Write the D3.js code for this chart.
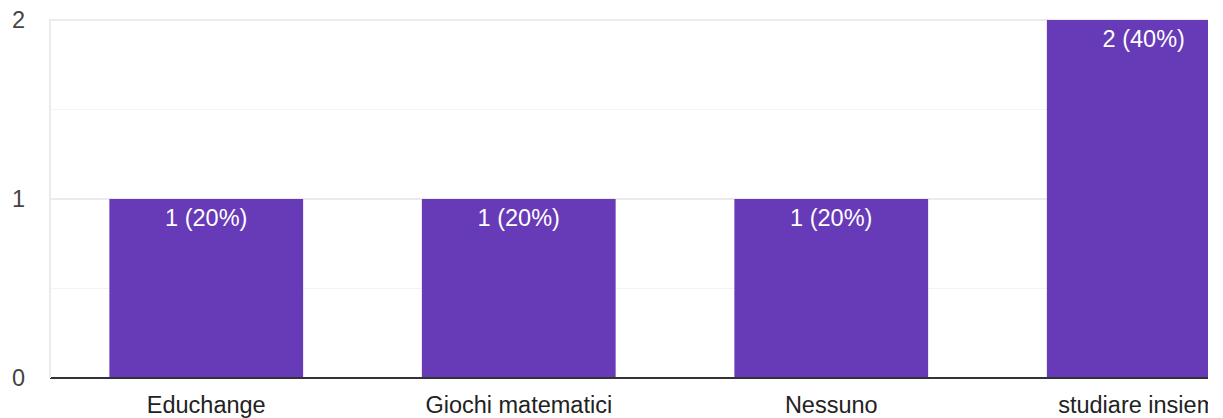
<!DOCTYPE html>
<html>
<head>
<meta charset="utf-8">
<script src="https://cdn.jsdelivr.net/npm/d3@7"></script>
<style>
  body { margin: 0; background: #fff; }
  text { font-family: "Liberation Sans", Arial, sans-serif; }
</style>
</head>
<body>
<div id="container"></div>
<script>
var categories = ["Educhange", "Giochi matematici", "Nessuno", "studiare insieme"];
var counts = [1, 1, 1, 2];
var labels = ["1 (20%)", "1 (20%)", "1 (20%)", "2 (40%)"];
var yTicks = [0, 1, 2];
var yMinor = [0.5, 1.5];

var W = 1223, H = 418;
var plotLeft = 50, plotRight = 1208, plotTop = 20, plotBottom = 378;

var svg = d3.select("#container")
  .append("svg")
    .attr("width", W)
    .attr("height", H);

svg.append("clipPath").attr("id", "plotclip")
  .append("rect")
    .attr("x", plotLeft).attr("y", 0)
    .attr("width", plotRight - plotLeft).attr("height", H);

var x = d3.scaleBand()
  .domain(categories)
  .range([plotLeft, plotLeft + 1250])
  .paddingInner(0.38)
  .paddingOuter(0.19);

var y = d3.scaleLinear()
  .domain([0, 2])
  .range([plotBottom, plotTop]);

var plot = svg.append("g").attr("clip-path", "url(#plotclip)");

// grid
plot.selectAll(".minor")
  .data(yMinor)
  .enter().append("line")
    .attr("x1", plotLeft).attr("x2", plotRight)
    .attr("y1", function (d) { return y(d); })
    .attr("y2", function (d) { return y(d); })
    .attr("stroke", "#f3f3f3")
    .attr("stroke-width", 1);

plot.selectAll(".major")
  .data(yTicks.filter(function (d) { return d > 0; }))
  .enter().append("line")
    .attr("x1", plotLeft).attr("x2", plotRight)
    .attr("y1", function (d) { return y(d); })
    .attr("y2", function (d) { return y(d); })
    .attr("stroke", "#ebebeb")
    .attr("stroke-width", 2);

svg.append("line")
  .attr("x1", plotLeft).attr("x2", plotLeft)
  .attr("y1", plotTop - 1).attr("y2", plotBottom)
  .attr("stroke", "#ebebeb")
  .attr("stroke-width", 2);

// bars
plot.selectAll(".bar")
  .data(counts)
  .enter().append("rect")
    .attr("x", function (d, i) { return x(categories[i]); })
    .attr("y", function (d) { return y(d); })
    .attr("width", x.bandwidth())
    .attr("height", function (d) { return y(0) - y(d); })
    .attr("fill", "#673ab7");

plot.selectAll(".barlabel")
  .data(counts)
  .enter().append("text")
    .attr("x", function (d, i) { return x(categories[i]) + x.bandwidth() / 2; })
    .attr("y", function (d) { return y(d) + 27; })
    .attr("text-anchor", "middle")
    .attr("fill", "#ffffff")
    .attr("font-size", "23.5px")
    .text(function (d, i) { return labels[i]; });

// baseline
plot.append("line")
  .attr("x1", plotLeft).attr("x2", plotRight)
  .attr("y1", y(0)).attr("y2", y(0))
  .attr("stroke", "#333333")
  .attr("stroke-width", 2);

// y labels
svg.selectAll(".ylab")
  .data(yTicks)
  .enter().append("text")
    .attr("x", 25)
    .attr("y", function (d) { return y(d); })
    .attr("dy", "0.36em")
    .attr("text-anchor", "end")
    .attr("fill", "#444444")
    .attr("font-size", "23.5px")
    .text(function (d) { return d; });

// category labels
plot.selectAll(".xlab")
  .data(categories)
  .enter().append("text")
    .attr("x", function (d) { return x(d) + x.bandwidth() / 2; })
    .attr("y", 413)
    .attr("text-anchor", "middle")
    .attr("fill", "#222222")
    .attr("font-size", "23.5px")
    .text(function (d) { return d; });
</script>
</body>
</html>
